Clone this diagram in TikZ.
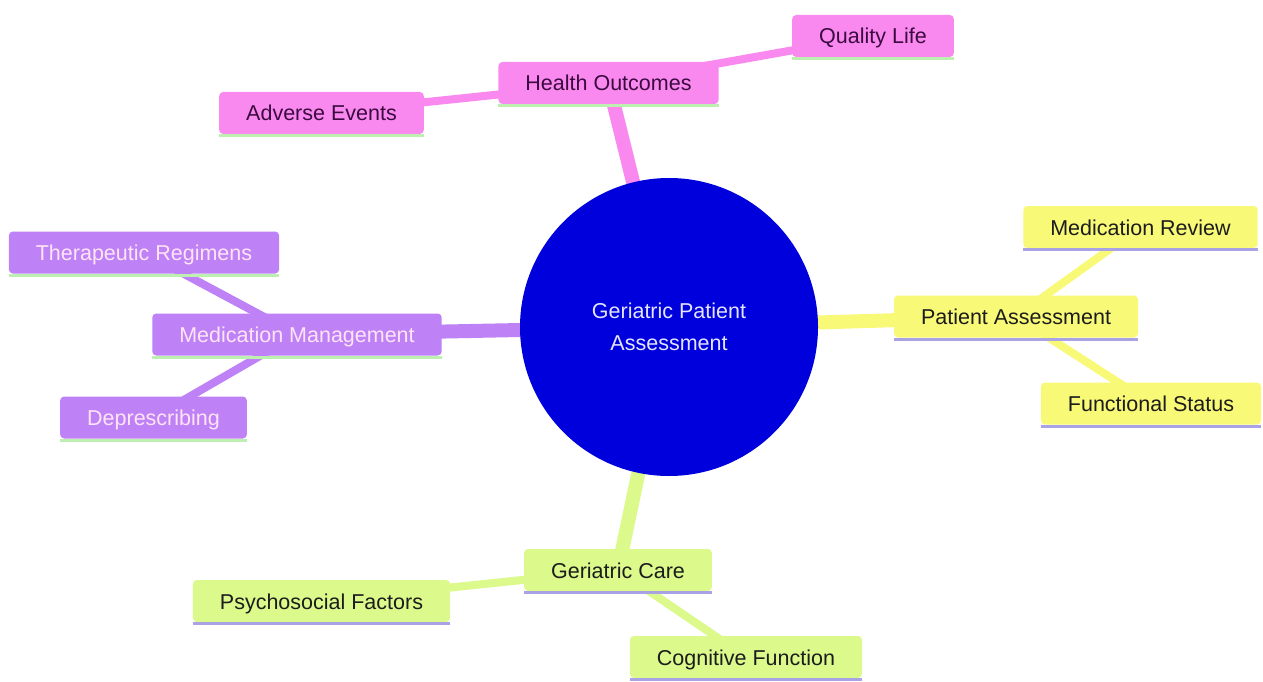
\documentclass[tikz,border=0pt]{standalone}
\usepackage{fontspec}
\setmainfont{Liberation Sans}
\usetikzlibrary{backgrounds}
\definecolor{pinkC}{HTML}{F988EF}
\definecolor{purpC}{HTML}{BE82F6}
\definecolor{yelC}{HTML}{F9F978}
\definecolor{grnC}{HTML}{DCF98B}
\definecolor{ulGreen}{HTML}{BDEFB0}
\definecolor{ulLilac}{HTML}{A9A3E6}
\definecolor{rootC}{HTML}{0000DC}
\definecolor{txPink}{HTML}{3B0B40}
\definecolor{txPurp}{HTML}{FFE4F6}
\definecolor{txDark}{HTML}{1C1C1C}
\definecolor{txRoot}{HTML}{E4E4FF}
\tikzset{
  mmnode/.style={rectangle, rounded corners=4pt, inner xsep=27pt, inner ysep=0pt,
    text height=20pt, text depth=4pt,
    minimum height=42pt, font=\fontsize{21.5}{26}\selectfont},
  pinknode/.style={mmnode, fill=pinkC, text=txPink},
  purpnode/.style={mmnode, fill=purpC, text=txPurp},
  yelnode/.style={mmnode, fill=yelC, text=txDark},
  grnnode/.style={mmnode, fill=grnC, text=txDark},
  mainedge/.style={line width=14pt},
  subedge/.style={line width=8pt},
  uline/.style={line width=3pt}
}
\begin{document}
\begin{tikzpicture}[x=1pt,y=-1pt]
\useasboundingbox (0,0) rectangle (1263,682);
% root
\node[circle, fill=rootC, minimum size=298pt, inner sep=0pt, text=txRoot, align=center,
  font=\fontsize{21.5}{32}\selectfont] (root) at (669,327) {Geriatric Patient\\Assessment};
% Health outcomes
\node[pinknode] (ho) at (608.5,83) {Health Outcomes};
\node[pinknode] (ql) at (873,36) {Quality Life};
\node[pinknode] (ae) at (321.5,113) {Adverse Events};
% medication management
\node[purpnode] (mm) at (297,334.5) {Medication Management};
\node[purpnode] (tr) at (144,252.5) {Therapeutic Regimens};
\node[purpnode] (dp) at (153.5,417.5) {Deprescribing};
% patient assessment
\node[yelnode] (pa) at (1016,316.5) {Patient Assessment};
\node[yelnode] (mr) at (1140.5,227) {Medication Review};
\node[yelnode] (fs) at (1151,403.5) {Functional Status};
% geriatric care
\node[grnnode] (gc) at (618,570) {Geriatric Care};
\node[grnnode] (pf) at (321.5,601) {Psychosocial Factors};
\node[grnnode] (cf) at (746,657) {Cognitive Function};
% underlines
\foreach \n in {ho,ql,ae,mm,tr,dp}
  \draw[uline, ulGreen] ([yshift=-1.5pt]\n.south west) -- ([yshift=-1.5pt]\n.south east);
\foreach \n in {pa,mr,fs,gc,pf,cf}
  \draw[uline, ulLilac] ([yshift=-1.5pt]\n.south west) -- ([yshift=-1.5pt]\n.south east);
\begin{scope}[on background layer]
  \fill[white] (0,0) rectangle (1263,682);
  \draw[mainedge, pinkC] (root.center) -- (ho.center);
  \draw[subedge, pinkC] (ho.center) -- (ql.center);
  \draw[subedge, pinkC] (ho.center) -- (ae.center);
  \draw[mainedge, purpC] (root.center) -- (mm.center);
  \draw[subedge, purpC] (mm.center) -- (tr.center);
  \draw[subedge, purpC] (mm.center) -- (dp.center);
  \draw[mainedge, yelC] (root.center) -- (pa.center);
  \draw[subedge, yelC] (pa.center) -- (mr.center);
  \draw[subedge, yelC] (pa.center) -- (fs.center);
  \draw[mainedge, grnC] (root.center) -- (gc.center);
  \draw[subedge, grnC] (gc.center) -- (pf.center);
  \draw[subedge, grnC] (gc.center) -- (cf.center);
\end{scope}
\end{tikzpicture}
\end{document}
